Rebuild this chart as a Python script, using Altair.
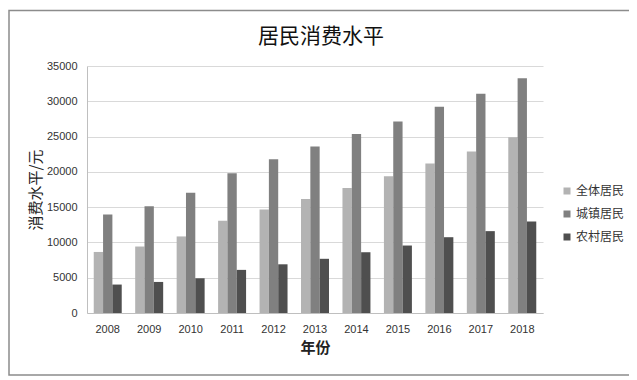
import altair as alt
import pandas as pd

years = [str(y) for y in range(2008, 2019)]
series = ["全体居民", "城镇居民", "农村居民"]
all_res = [8650, 9420, 10850, 13080, 14680, 16150, 17700, 19370, 21180, 22880, 24910]
urban = [13970, 15110, 17050, 19800, 21790, 23590, 25380, 27140, 29220, 31060, 33250]
rural = [4030, 4400, 4920, 6110, 6900, 7680, 8610, 9560, 10740, 11600, 12970]
colors = ["#b3b3b3", "#808080", "#4f4f4f"]
y_ticks = list(range(0, 35001, 5000))
chart_title = "居民消费水平"

rows = []
for i, yr in enumerate(years):
    for s, vals in zip(series, [all_res, urban, rural]):
        rows.append({"年份": yr, "类别": s, "消费": vals[i]})
df = pd.DataFrame(rows)

W, H = 456, 247
CJK = "Noto Sans CJK SC"

bars = alt.Chart(df).mark_bar().encode(
    x=alt.X("年份:N", sort=years,
            scale=alt.Scale(paddingInner=0.325, paddingOuter=0.1625),
            axis=alt.Axis(title="年份", labelAngle=0, grid=False, ticks=False,
                          labelPadding=10, titlePadding=6,
                          titleFont=CJK, titleFontSize=15, titleFontWeight="bold")),
    xOffset=alt.XOffset("类别:N", sort=series,
                        scale=alt.Scale(paddingInner=0, paddingOuter=0)),
    y=alt.Y("消费:Q", scale=alt.Scale(domain=[0, 35000], nice=False),
            axis=alt.Axis(title="消费水平/元", values=y_ticks, format="d", ticks=False,
                          labelPadding=10, titlePadding=3,
                          titleFont=CJK, titleFontSize=15, titleFontWeight="normal")),
    color=alt.Color("类别:N", sort=series,
                    scale=alt.Scale(domain=series, range=colors),
                    legend=alt.Legend(title=None, orient="none", legendX=474, legendY=119,
                                      symbolType="square", symbolSize=49,
                                      symbolStrokeWidth=0, labelFont=CJK,
                                      labelFontSize=12, labelColor="#333333",
                                      rowPadding=11, labelOffset=3)),
)

border = alt.Chart(pd.DataFrame({"a": [0]})).mark_rect(
    fillOpacity=0, stroke="#8c8c8c", strokeWidth=1.5
).encode(
    x=alt.value(-78), x2=alt.value(545), y=alt.value(-55.5), y2=alt.value(309)
)

title = alt.Chart(pd.DataFrame({"t": [chart_title]})).mark_text(
    font=CJK, fontSize=21, color="#111111", align="center", baseline="middle"
).encode(
    text="t:N", x=alt.value(W / 2 + 6), y=alt.value(-29)
)

chart = alt.layer(bars, border, title).properties(
    width=W, height=H,
    padding={"left": 79, "top": 58, "right": 86, "bottom": 63},
    autosize=alt.AutoSizeParams(type="none"),
).configure_view(stroke=None).configure_axis(
    gridColor="#d9d9d9", domainColor="#bfbfbf", labelColor="#333333",
    titleColor="#222222", labelFont="Liberation Sans", labelFontSize=11,
)

chart.save("out.html", embed_options={"renderer": "svg", "actions": False})
